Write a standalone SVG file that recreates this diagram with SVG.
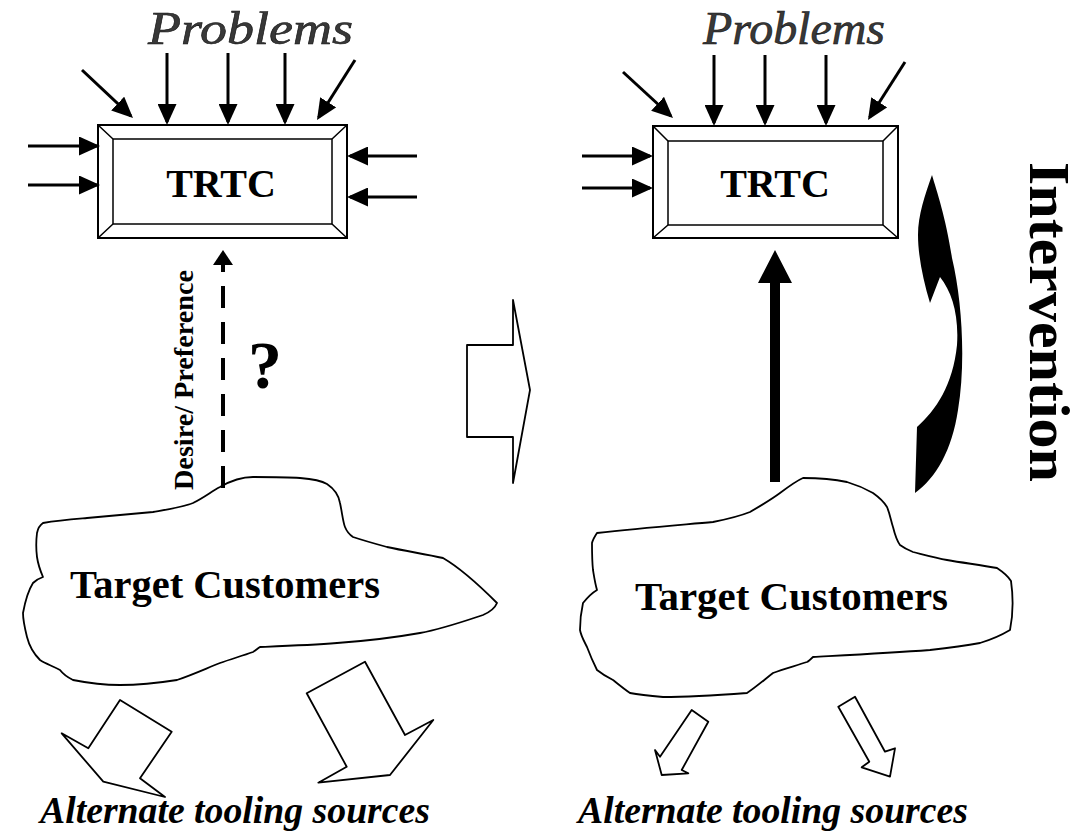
<svg xmlns="http://www.w3.org/2000/svg" width="1083" height="836" viewBox="0 0 1083 836">
  <style>
    .frame { fill: #fff; stroke: #000; stroke-width: 2; }
    .bevel { fill: none; stroke: #000; stroke-width: 1.5; }
    .conn { fill: none; stroke: #000; stroke-width: 3; }
    .outline { fill: #fff; stroke: #000; stroke-width: 1.8; stroke-linejoin: round; }
    .serif { font-family: "Liberation Serif", "Tinos", "Times New Roman", serif; }
    .title { font-size: 47px; font-style: italic; fill: #383838; stroke: #111; stroke-width: 0.6; }
    .boxlabel { font-size: 40px; font-weight: bold; fill: #000; }
    .cloudlabel { font-size: 40px; font-weight: bold; fill: #000; }
    .source { font-size: 38px; font-weight: bold; font-style: italic; fill: #000; }
  </style>
  <defs>
    <marker id="head" markerUnits="userSpaceOnUse" markerWidth="21" markerHeight="19" refX="18" refY="9.5" orient="auto">
      <path d="M0,0 L21,9.5 L0,19 Z" fill="#000"/>
    </marker>
  </defs>
  <rect width="1083" height="836" fill="#fff"/>

  <!-- left panel: current situation -->
  <text id="problems-left" class="serif title" x="148" y="44" textLength="205" lengthAdjust="spacingAndGlyphs">Problems</text>

  <g id="trtc-left">
    <rect class="frame" x="98" y="125" width="249" height="113"/>
    <rect class="bevel" x="113" y="139" width="219" height="85"/>
    <path class="bevel" d="M98,125 L113,139 M347,125 L332,139 M98,238 L113,224 M347,238 L332,224"/>
    <text class="serif boxlabel" x="221" y="197" text-anchor="middle">TRTC</text>
  </g>

  <g id="customers-left">
    <path class="outline" d="M43,523 C60,520 75,519 87,518 C110,516 130,514 153,512 C170,509 183,507 193,503 C205,497 212,491 220,487 C232,480 243,477 253,477 C270,477 287,477 300,478 C312,479 322,481 327,484 C336,490 339,497 340,503 C342,512 343,522 345,527 C347,532 350,535 353,537 C365,541 376,544 387,547 C405,551 425,554 443,558 C462,569 482,588 497,603 C495,608 490,612 483,615 C462,622 442,629 420,633 C392,638 365,641 337,643 C312,645 285,646 260,647 C257,649 255,651 253,652 C242,656 231,659 220,663 C205,669 192,675 177,680 C158,683 139,685 120,685 C104,685 88,683 73,680 C67,677 63,674 60,670 C53,666 46,664 40,660 C33,653 29,645 27,637 C25,629 23,621 23,613 C25,602 28,591 33,583 C36,580 40,578 43,577 C40,570 38,564 37,557 C36,549 36,541 37,533 C38,528 40,525 43,523 Z"/>
    <text class="serif cloudlabel" x="70" y="598" textLength="310" lengthAdjust="spacingAndGlyphs">Target Customers</text>
  </g>

  <g id="question-mark">
    <text class="serif" x="265" y="388" font-size="68" font-weight="bold" text-anchor="middle">?</text>
  </g>

  <g id="desire-label">
    <text class="serif" transform="translate(193,490) rotate(-90)" font-size="27" font-weight="bold" textLength="220" lengthAdjust="spacingAndGlyphs">Desire/ Preference</text>
  </g>

  <text id="sources-left" class="serif source" x="40" y="823" textLength="390" lengthAdjust="spacingAndGlyphs">Alternate tooling sources</text>

  <!-- transition arrow between the panels -->
  <g id="transition-arrow">
    <path class="outline" d="M467,345 L513,345 L513,300 L530,390 L513,483 L513,437 L467,437 Z"/>
  </g>

  <!-- right panel: after intervention -->
  <text id="problems-right" class="serif title" x="703" y="44" textLength="182" lengthAdjust="spacingAndGlyphs">Problems</text>

  <g id="trtc-right">
    <rect class="frame" x="653" y="126" width="245" height="112"/>
    <rect class="bevel" x="668" y="141" width="215" height="84"/>
    <path class="bevel" d="M653,126 L668,141 M898,126 L883,141 M653,238 L668,225 M898,238 L883,225"/>
    <text class="serif boxlabel" x="775" y="197" text-anchor="middle">TRTC</text>
  </g>

  <g id="customers-right">
    <path class="outline" d="M597,533 C640,528 680,525 713,522 C728,519 740,516 750,512 C762,505 772,499 780,493 C788,487 796,481 803,478 C818,478 833,479 847,482 C857,485 866,489 873,493 C880,498 884,502 887,507 C890,514 891,521 893,527 C895,535 897,541 900,545 C904,548 908,550 913,552 C925,555 936,558 947,560 C964,563 981,565 997,568 C1003,572 1008,576 1011,581 C1013,595 1013,615 1010,630 C1000,636 990,640 980,643 C963,646 947,648 930,650 C890,653 850,655 813,657 C811,659 809,661 807,662 C795,666 783,669 773,673 C764,680 756,687 747,693 C720,695 690,697 663,697 C651,696 640,695 630,693 C624,689 618,684 613,680 C607,677 602,674 597,670 C593,662 590,655 587,647 C584,641 581,636 580,630 C580,621 581,612 583,603 C587,598 592,593 597,590 C595,583 594,576 593,570 C592,561 592,552 592,543 C593,539 595,536 597,533 Z"/>
    <text class="serif cloudlabel" x="635" y="610" textLength="313" lengthAdjust="spacingAndGlyphs">Target Customers</text>
  </g>

  <g id="intervention-arrow">
    <path d="M932,175 C937,192 946,218 952,258 C962,300 966,362 958,410 C952,450 936,478 915,493 L917,427 C936,410 953,385 957,345 C959,315 952,292 940,277 L930,303 C923,280 918,255 918,235 C918,215 925,195 932,175 Z" fill="#000"/>
  </g>

  <g id="intervention-label">
    <text class="serif" transform="translate(1030,162) rotate(90)" font-size="56" font-weight="bold" textLength="320" lengthAdjust="spacingAndGlyphs">Intervention</text>
  </g>

  <text id="sources-right" class="serif source" x="578" y="823" textLength="390" lengthAdjust="spacingAndGlyphs">Alternate tooling sources</text>

  <!-- connectors -->
  <g id="connectors">
    <!-- problems pressing on the left TRTC -->
    <line class="conn" x1="82" y1="70" x2="130.8" y2="115.9" marker-end="url(#head)"/>
    <line class="conn" x1="167" y1="53" x2="167" y2="122" marker-end="url(#head)"/>
    <line class="conn" x1="228" y1="53" x2="228" y2="122" marker-end="url(#head)"/>
    <line class="conn" x1="285" y1="53" x2="285" y2="122" marker-end="url(#head)"/>
    <line class="conn" x1="355" y1="60" x2="318.6" y2="117.5" marker-end="url(#head)"/>
    <line class="conn" x1="28" y1="146" x2="97" y2="146" marker-end="url(#head)"/>
    <line class="conn" x1="28" y1="185" x2="97" y2="185" marker-end="url(#head)"/>
    <line class="conn" x1="417" y1="156" x2="350" y2="156" marker-end="url(#head)"/>
    <line class="conn" x1="417" y1="197" x2="350" y2="197" marker-end="url(#head)"/>

    <!-- uncertain demand from customers to the left TRTC -->
    <line x1="223" y1="488" x2="223" y2="265" stroke="#000" stroke-width="4" stroke-dasharray="22 14"/>
    <path d="M213,265 L223,250 L233,265 Z" fill="#000"/>

    <!-- customers leaking to other sources (left) -->
    <path class="outline" d="M120,700 L171.7,731.7 L140,778.3 L165,797 L103.3,781.7 L61.7,733.3 L88.3,748.3 Z"/>
    <path class="outline" d="M306.7,693.3 L365,661.7 L405,735 L433.3,720 L390,775 L318.3,782.7 L346.7,766.7 Z"/>

    <!-- problems pressing on the right TRTC -->
    <line class="conn" x1="623" y1="72" x2="670.8" y2="116" marker-end="url(#head)"/>
    <line class="conn" x1="714" y1="55" x2="714" y2="123" marker-end="url(#head)"/>
    <line class="conn" x1="765" y1="55" x2="765" y2="123" marker-end="url(#head)"/>
    <line class="conn" x1="826" y1="55" x2="826" y2="123" marker-end="url(#head)"/>
    <line class="conn" x1="905" y1="62" x2="869.6" y2="117.5" marker-end="url(#head)"/>
    <line class="conn" x1="582" y1="156" x2="650" y2="156" marker-end="url(#head)"/>
    <line class="conn" x1="582" y1="188" x2="650" y2="188" marker-end="url(#head)"/>

    <!-- firm demand from customers to the right TRTC -->
    <path d="M770,482 L770,283 L758,283 L775,250 L792,283 L780,283 L780,482 Z" fill="#000"/>

    <!-- reduced leakage to other sources (right) -->
    <path class="outline" d="M691.7,710 L708.3,721.7 L681.7,770 L688.3,773.3 L661.7,775 L655,750 L660,756.7 Z"/>
    <path class="outline" d="M838.3,706.7 L855,696.7 L885,751.7 L895,748.3 L890,776.7 L861.7,767.3 L869.3,761.7 Z"/>
  </g>
</svg>
